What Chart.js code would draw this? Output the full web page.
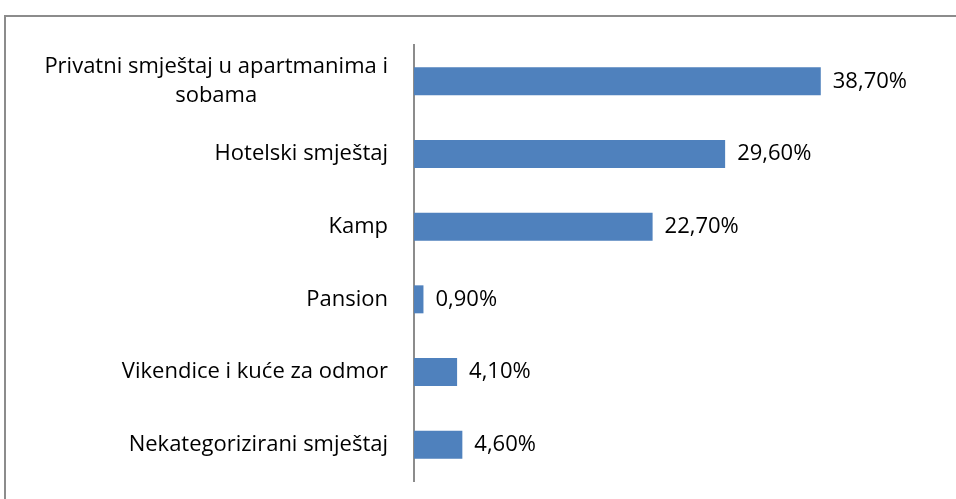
<!DOCTYPE html>
<html>
<head>
<meta charset="utf-8">
<script src="https://cdn.jsdelivr.net/npm/chart.js@4"></script>
<style>
html,body{margin:0;padding:0;background:#fff;overflow:hidden;width:956px;height:499px;}
#frame{position:absolute;left:4px;top:15px;width:1200px;height:800px;border:2px solid #8c8c8c;box-sizing:border-box;}
#wrap{position:absolute;left:0;top:0;width:956px;height:499px;}
</style>
</head>
<body>
<div id="frame"></div>
<div id="wrap"><canvas id="c" width="956" height="499"></canvas></div>
<script>
const categories = [
  ["Privatni smještaj u apartmanima i", "sobama"],
  "Hotelski smještaj",
  "Kamp",
  "Pansion",
  "Vikendice i kuće za odmor",
  "Nekategorizirani smještaj"
];
const values = [38.7, 29.6, 22.7, 0.9, 4.1, 4.6];
const valueLabels = ["38,70%", "29,60%", "22,70%", "0,90%", "4,10%", "4,60%"];

const FONT = "'Open Sans', 'Noto Sans', sans-serif";
const FSIZE = 22;

const labelPlugin = {
  id: 'labels',
  afterDatasetsDraw(chart) {
    const ctx = chart.ctx;
    const ys = chart.scales.y;
    const meta = chart.getDatasetMeta(0);
    ctx.save();
    ctx.font = FSIZE + "px " + FONT;
    ctx.fillStyle = "#000";
    ctx.textBaseline = "middle";
    const rightX = ys.right - 26;
    categories.forEach((lab, i) => {
      const y = ys.getPixelForValue(i);
      const lines = Array.isArray(lab) ? lab : [lab];
      const lh = 29;
      const maxW = Math.max(...lines.map(l => ctx.measureText(l).width));
      const cx = rightX - maxW / 2;
      lines.forEach((l, k) => {
        const ly = y + (k - (lines.length - 1) / 2) * lh;
        ctx.textAlign = "center";
        ctx.fillText(l, cx, ly);
      });
    });
    meta.data.forEach((bar, i) => {
      ctx.textAlign = "left";
      ctx.fillText(valueLabels[i], bar.x + 12, bar.y);
    });
    ctx.restore();
  }
};

new Chart(document.getElementById('c'), {
  type: 'bar',
  data: {
    labels: categories,
    datasets: [{
      data: values,
      backgroundColor: '#4F81BD',
      borderWidth: 0,
      barPercentage: 0.385,
      categoryPercentage: 1
    }]
  },
  options: {
    indexAxis: 'y',
    responsive: false,
    animation: false,
    events: [],
    layout: { padding: { top: 45, bottom: 18, left: 0, right: 69 } },
    plugins: { legend: { display: false }, tooltip: { enabled: false } },
    scales: {
      x: {
        min: 0, max: 45,
        display: false
      },
      y: {
        ticks: { display: false },
        grid: { display: false },
        border: { display: true, color: '#8c8c8c', width: 2 },
        afterFit(scale) { scale.width = 414; }
      }
    }
  },
  plugins: [labelPlugin]
});
</script>
</body>
</html>
